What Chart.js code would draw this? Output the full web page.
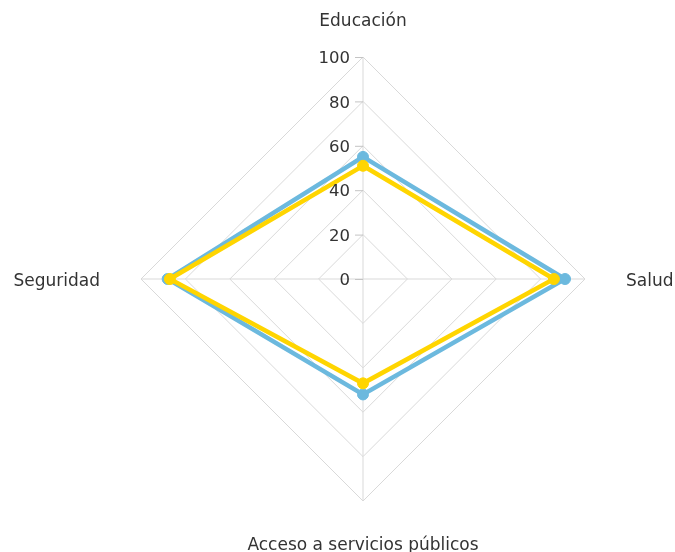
<!DOCTYPE html>
<html>
<head>
<meta charset="utf-8">
<script src="https://cdn.jsdelivr.net/npm/chart.js@4/dist/chart.umd.min.js"></script>
<style>
  html, body { margin: 0; padding: 0; background: #fff; }
  #wrap { width: 675px; height: 552px; position: relative; }
</style>
</head>
<body>
<div id="wrap"><canvas id="c" width="675" height="552"></canvas></div>
<script>
const categories = ["Educación", "Salud", "Acceso a servicios públicos", "Seguridad"];
const seriesBlue = [55, 91, 52, 88];
const seriesYellow = [51, 86, 47, 87];
const tickValues = [0, 20, 40, 60, 80, 100];

const customLabels = {
  id: 'customLabels',
  afterDraw(chart) {
    const s = chart.scales.r;
    const ctx = chart.ctx;
    ctx.save();
    // tick labels + tick marks
    ctx.font = '16.5px "DejaVu Sans"';
    ctx.fillStyle = '#333';
    ctx.textAlign = 'right';
    ctx.textBaseline = 'middle';
    tickValues.forEach(v => {
      const y = s.yCenter - s.getDistanceFromCenterForValue(v);
      ctx.fillText(String(v), s.xCenter - 13, y + 2);
      ctx.strokeStyle = '#c4c4c4';
      ctx.lineWidth = 1;
      ctx.beginPath();
      ctx.moveTo(s.xCenter - 8, y + 0.5);
      ctx.lineTo(s.xCenter, y + 0.5);
      ctx.stroke();
    });
    // point labels
    ctx.font = '17px "DejaVu Sans"';
    ctx.fillStyle = '#333';
    categories.forEach((lab, i) => {
      const p = s.getPointPosition(i, s.drawingArea + 41);
      const cx = Math.cos(p.angle);
      const sy = Math.sin(p.angle);
      let dy = 3;
      if (Math.abs(cx) < 0.01) {
        ctx.textAlign = 'center';
        dy = sy < 0 ? 6 : 4;
      } else if (cx > 0) ctx.textAlign = 'left';
      else ctx.textAlign = 'right';
      ctx.textBaseline = 'middle';
      ctx.fillText(lab, p.x, p.y + dy);
    });
    ctx.restore();
  }
};

new Chart(document.getElementById('c'), {
  type: 'radar',
  data: {
    labels: categories,
    datasets: [
      {
        data: seriesYellow,
        borderColor: '#FFD500',
        backgroundColor: '#FFD500',
        pointBackgroundColor: '#FFD500',
        pointBorderColor: '#FFD500',
        borderWidth: 4.5,
        pointRadius: 5.5,
        pointBorderWidth: 1,
        fill: false
      },
      {
        data: seriesBlue,
        borderColor: '#6CB9DE',
        backgroundColor: '#6CB9DE',
        pointBackgroundColor: '#6CB9DE',
        pointBorderColor: '#6CB9DE',
        borderWidth: 4.5,
        pointRadius: 5.5,
        pointBorderWidth: 1,
        fill: false
      }
    ]
  },
  options: {
    responsive: false,
    animation: false,
    layout: { padding: { left: 141, right: 90, top: 57, bottom: 51 } },
    plugins: { legend: { display: false }, tooltip: { enabled: false } },
    scales: {
      r: {
        min: 0,
        max: 100,
        ticks: { stepSize: 20, display: false },
        grid: { color: '#d9d9d9', lineWidth: 1 },
        angleLines: { color: '#d9d9d9', lineWidth: 1 },
        pointLabels: { display: false }
      }
    }
  },
  plugins: [customLabels]
});
</script>
</body>
</html>
